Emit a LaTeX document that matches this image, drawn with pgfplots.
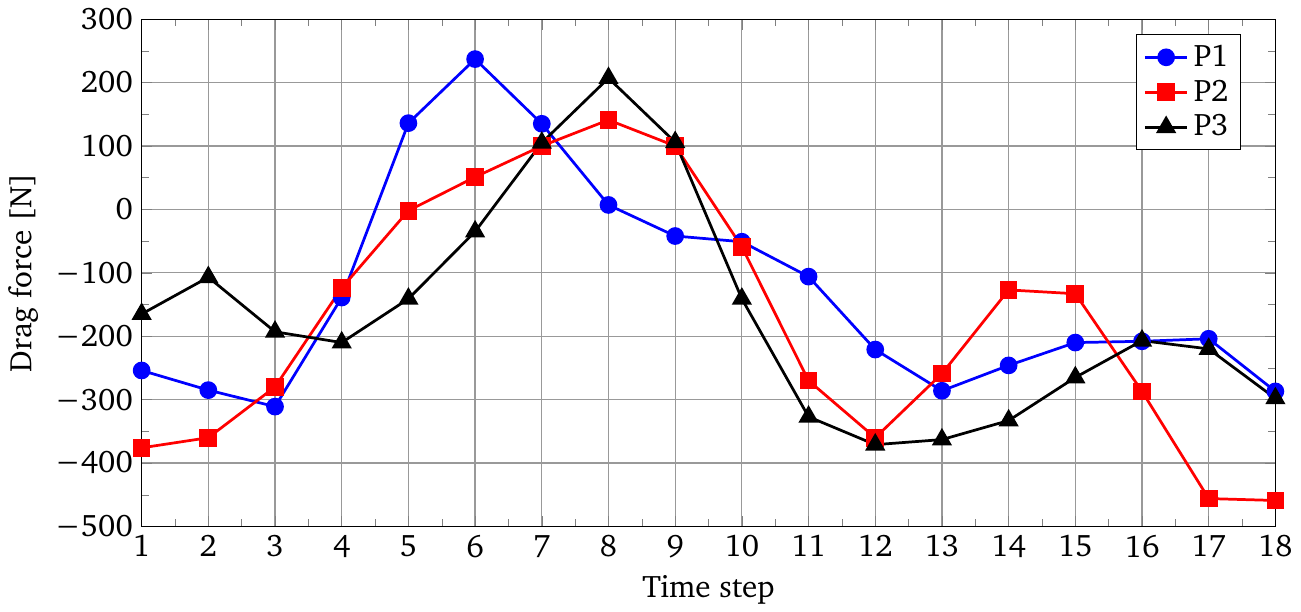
\documentclass[border=0pt]{standalone}
\usepackage[T1]{fontenc}
\usepackage{charter}
\usepackage{textcomp}
\usepackage{pgfplots}
\pgfplotsset{compat=1.18}
\begin{document}
\begin{tikzpicture}
\begin{axis}[
  width=16.0cm, height=7.16cm,
  scale only axis,
  xmin=1, xmax=18, ymin=-500, ymax=300,
  xtick={1,...,18},
  xticklabels={1,2,3,4,5,6,7,8,9,10,11,12,13,14,15,16,17,18},
  ytick={-500,-400,...,300},
  yticklabels={\textminus500,\textminus400,\textminus300,\textminus200,\textminus100,0,100,200,300},
  minor x tick num=1,
  minor y tick num=1,
  grid=major,
  major grid style={gray!80, line width=0.5pt},
  xlabel={Time step},
  ylabel={Drag force [N]},
  tick label style={font=\fontsize{12.5}{15}\selectfont},
  label style={font=\fontsize{12.5}{15}\selectfont},
  legend style={at={(0.97,0.97)}, anchor=north east, font=\fontsize{12.5}{15}\selectfont, cells={anchor=west}},
  every axis plot/.append style={line width=1.1pt},
]
\addplot[blue, mark=*, mark size=3pt] coordinates {
(1,-254) (2,-285) (3,-311) (4,-139) (5,136) (6,237) (7,135) (8,7) (9,-42)
(10,-51) (11,-106) (12,-221) (13,-286) (14,-246) (15,-210) (16,-208) (17,-204) (18,-287)};
\addlegendentry{P1}
\addplot[red, mark=square*, mark size=3pt] coordinates {
(1,-376) (2,-360) (3,-280) (4,-124) (5,-2) (6,51) (7,100) (8,141) (9,100)
(10,-59) (11,-270) (12,-360) (13,-259) (14,-127) (15,-133) (16,-287) (17,-456) (18,-459)};
\addlegendentry{P2}
\addplot[black, mark=triangle*, mark size=3.6pt] coordinates {
(1,-165) (2,-107) (3,-193) (4,-210) (5,-141) (6,-35) (7,105) (8,207) (9,106)
(10,-141) (11,-327) (12,-371) (13,-363) (14,-333) (15,-265) (16,-207) (17,-220) (18,-298)};
\addlegendentry{P3}
\end{axis}
\end{tikzpicture}
\end{document}
